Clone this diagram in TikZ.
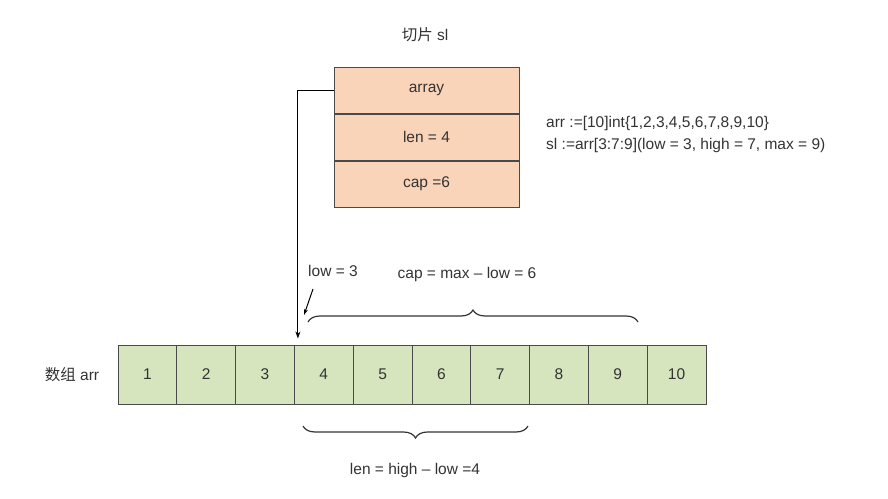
\documentclass[tikz,border=0pt]{standalone}
\usepackage{fontspec}
\setmainfont{Liberation Sans}
\newfontfamily\cjk{Noto Sans CJK SC}
\usepackage{tikz}
\usetikzlibrary{arrows.meta,positioning,decorations.pathreplacing}
\definecolor{slicefill}{HTML}{FAD4B9}
\definecolor{cellfill}{HTML}{D7E5BF}
\definecolor{ink}{HTML}{333333}
\definecolor{edge}{HTML}{4A4A4A}

\begin{document}
\begin{tikzpicture}[x=1pt, y=-1pt,
    every node/.style={font=\fontsize{15.5}{18}\selectfont, text=ink},
    fld/.style={rectangle, draw=edge, line width=1pt, fill=slicefill,
                minimum width=185pt, minimum height=46pt, inner sep=0pt},
    cell/.style={rectangle, draw=edge, line width=1pt, fill=cellfill,
                 minimum width=58.8pt, minimum height=59pt, inner sep=0pt},
    e/.style={line width=1pt, draw=black, -{Stealth[length=7pt, width=5pt]}},
    brc/.style={decorate, line width=1.2pt, draw=ink,
                decoration={brace, amplitude=12pt}},
    code/.style={anchor=west, inner sep=0pt},
  ]
  \useasboundingbox (0,0) rectangle (888,498);
  % slice header
  \node (title) at (425,35) {{\cjk 切片} sl};
  \node[fld] (array) at (426.5,90) {array};
  \node[fld, below=0pt of array] (len) {len = 4};
  \node[fld, below=0pt of len] (cap) {cap =6};
  \node[code] (code1) at (546,123) {arr :=[10]int\{1,2,3,4,5,6,7,8,9,10\}};
  \node[code] (code2) at (546,145) {sl :=arr[3:7:9](low = 3, high = 7, max = 9)};
  % backing array
  \foreach \v [count=\i] in {1,...,10}
    \node[cell] (c\i) at ({147.4+(\i-1)*58.8}, 374.5) {\v};
  \node (arrlbl) at (72,375) {{\cjk 数组} arr};
  % pointer from slice to array
  \draw[e, shorten >=6pt] (array.west) -| ([xshift=4pt]c4.north west);
  \node (low) at (333,271) {low = 3};
  \coordinate (lowfrom) at (313,289);
  \coordinate (lowto) at (304,315);
  \draw[e, -{Stealth[length=6pt, width=4pt]}] (lowfrom) -- (lowto);
  % braces
  \coordinate (capL) at (308,322);
  \coordinate (capR) at (638,322);
  \draw[brc] (capL) -- (capR);
  \node (caplbl) at (467,274) {cap = max \textendash{} low = 6};
  \coordinate (lenL) at (303,426);
  \coordinate (lenR) at (528,426);
  \draw[brc] (lenR) -- (lenL);
  \node (lenlbl) at (415,470) {len = high \textendash{} low =4};
\end{tikzpicture}
\end{document}
